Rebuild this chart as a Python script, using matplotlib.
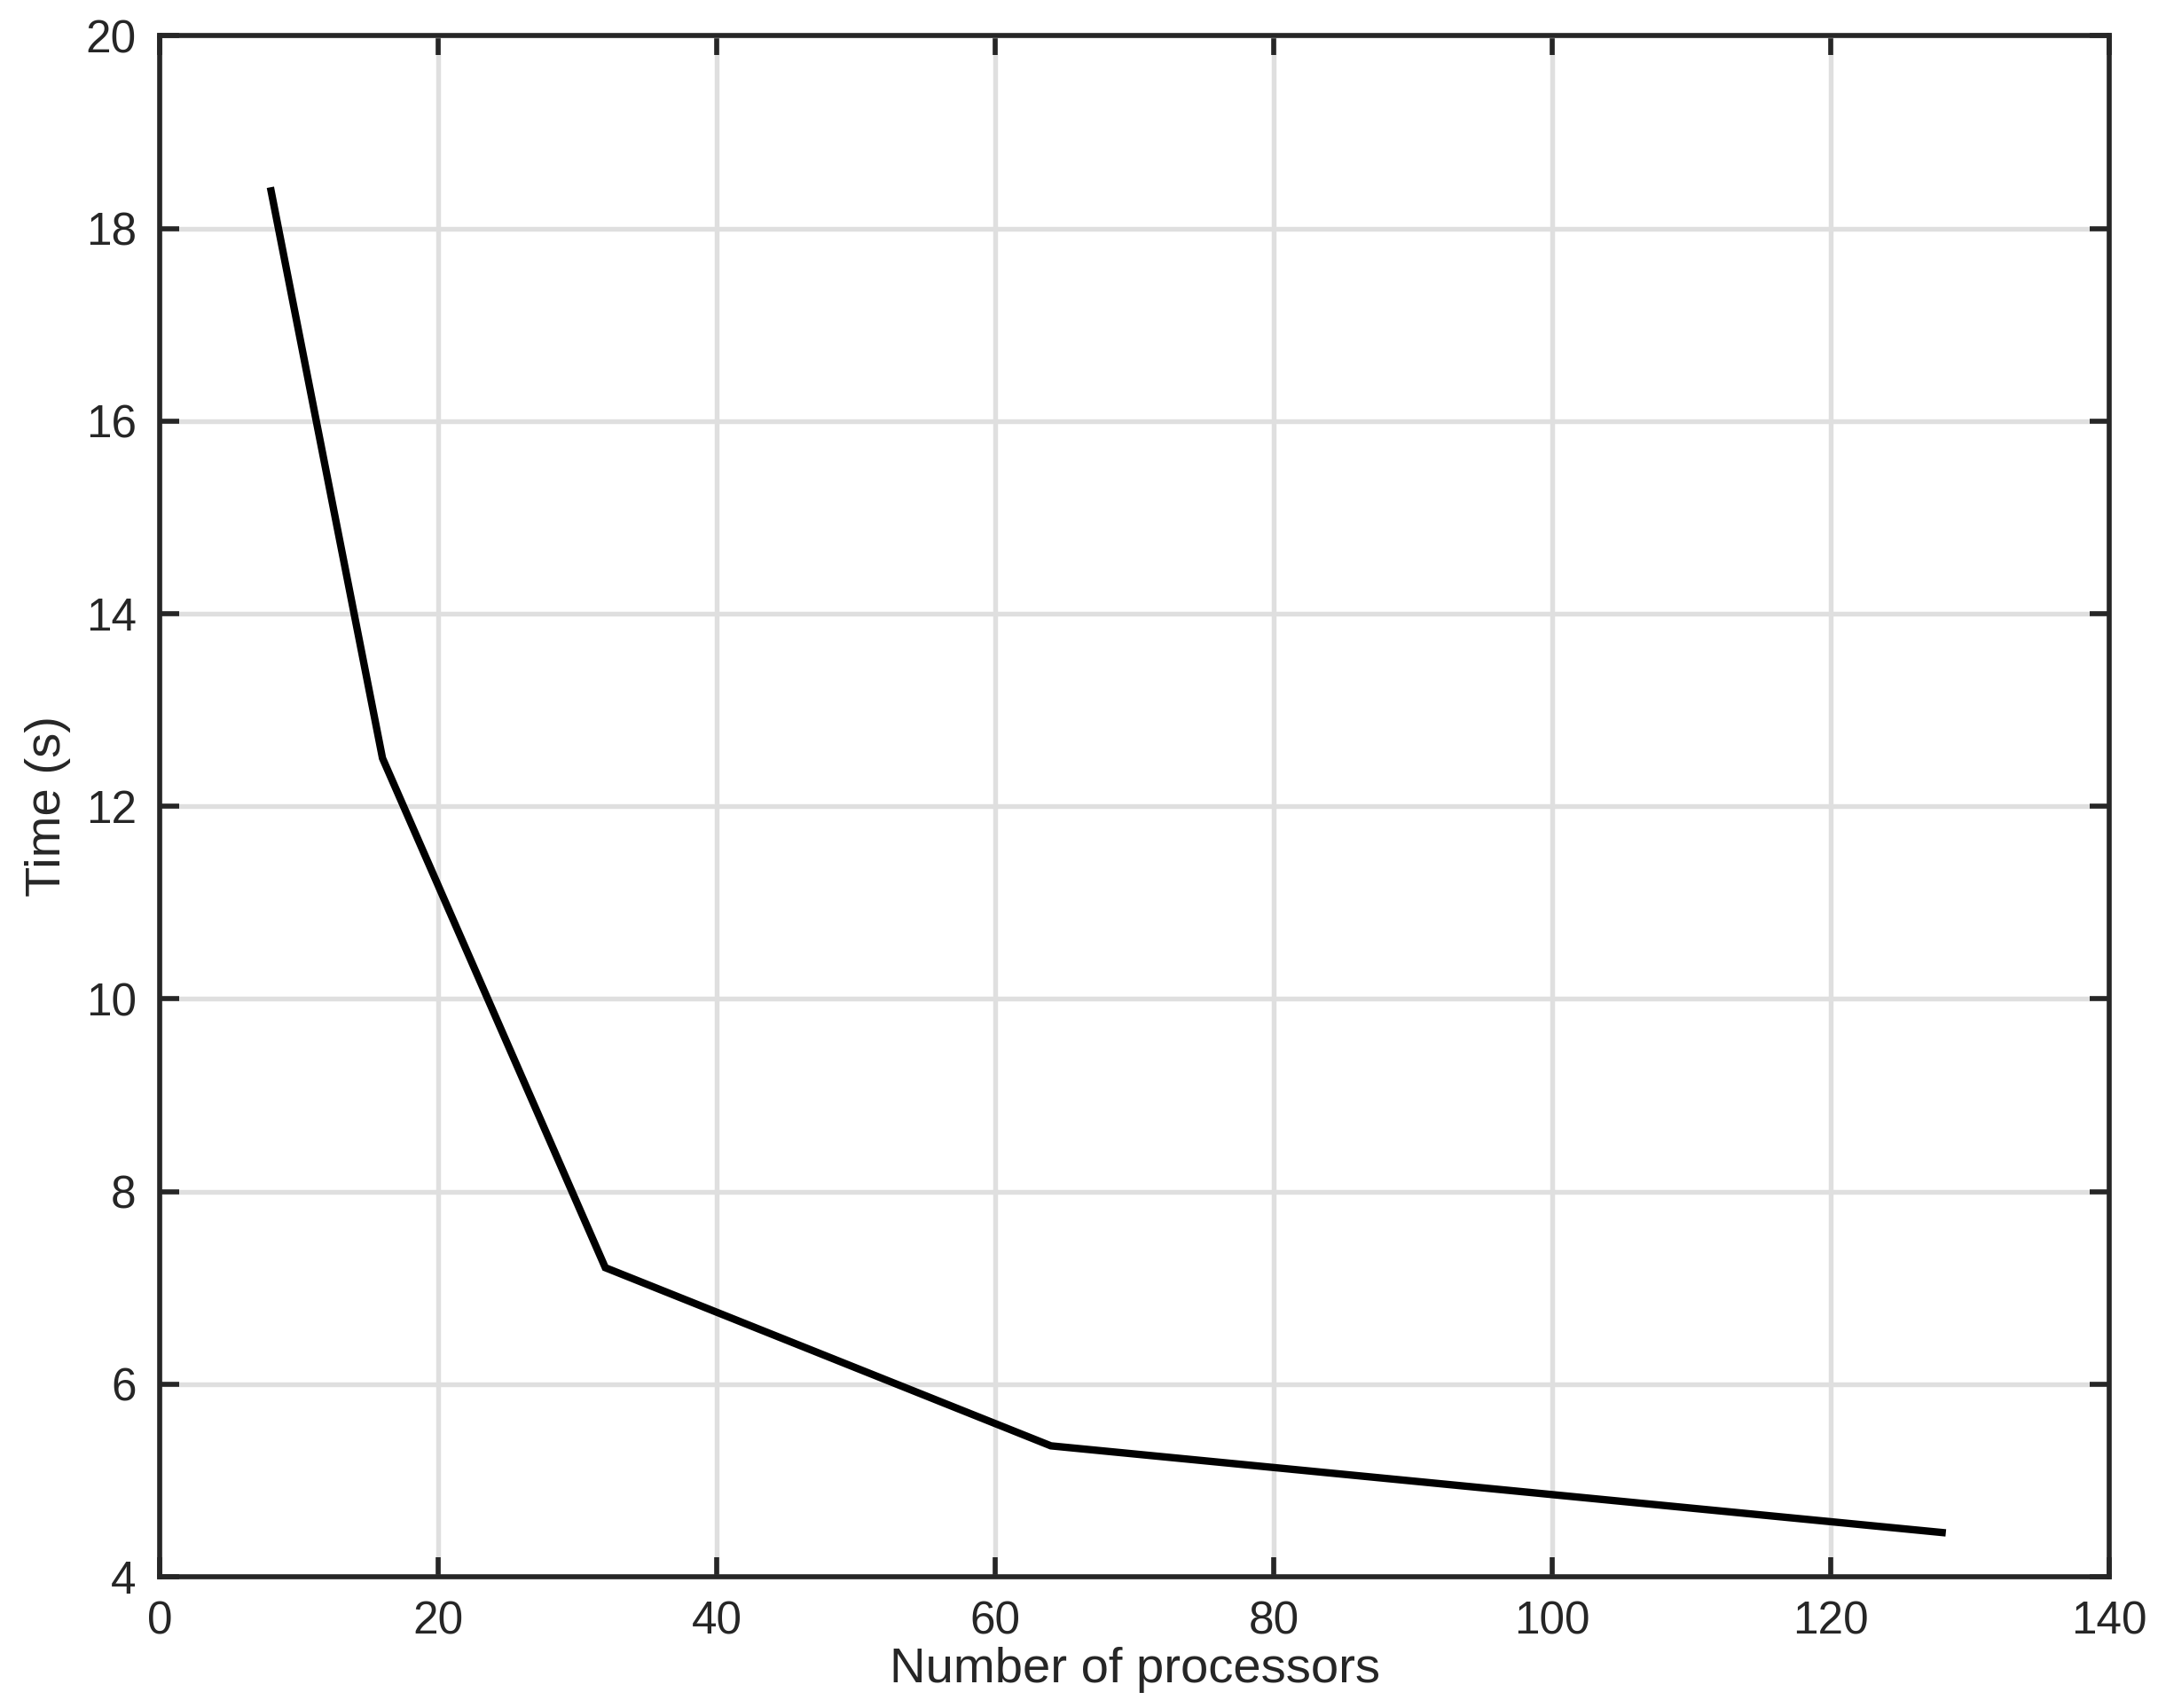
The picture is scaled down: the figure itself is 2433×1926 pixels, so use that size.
import numpy as np
from matplotlib import pyplot as plt

plt.rcParams['font.family'] = ['Liberation Sans', 'DejaVu Sans']

# processors vs run time
procs = [8, 16, 32, 64, 128]
times = [18.39, 12.5, 7.21, 5.36, 4.46]

xticks = np.arange(0, 141, 20)
yticks = np.arange(4, 21, 2)

dark = '#262626'

fig = plt.figure(figsize=(2433 / 300, 1926 / 300), dpi=300)
ax = fig.add_axes([0.074, 0.0768, 0.9774 - 0.074, 0.9790 - 0.0768])

ax.plot(procs, times, color='black', lw=2.0, solid_joinstyle='miter', zorder=3)

ax.set_xlim(0, 140)
ax.set_ylim(4, 20)
ax.set_xticks(xticks)
ax.set_yticks(yticks)

ax.grid(True, color='#dfdfdf', lw=1.3)
ax.set_axisbelow(True)
for s in ax.spines.values():
    s.set_color(dark)
    s.set_linewidth(1.35)

ax.tick_params(direction='in', length=5.3, width=1.35, color=dark,
               labelcolor=dark, labelsize=12.3, pad=6.3,
               top=True, right=True)

ax.set_xlabel('Number of processors', fontsize=13.5, color=dark, labelpad=1)
ax.set_ylabel('Time (s)', fontsize=13.5, color=dark, labelpad=4)

fig.savefig('out.png', dpi=300)
